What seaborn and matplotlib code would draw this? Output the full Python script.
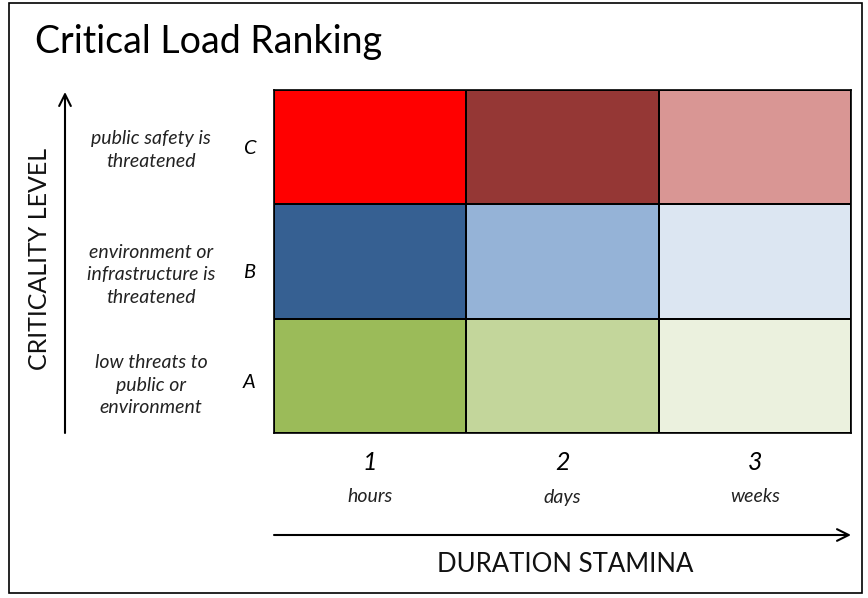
import matplotlib
matplotlib.use("Agg")
import matplotlib.pyplot as plt
from matplotlib.colors import ListedColormap
from matplotlib.patches import Rectangle
import seaborn as sns
import numpy as np
import pandas as pd

# ---- data ----
levels = ["C", "B", "A"]                       # criticality levels, top to bottom
level_desc = ["public safety is\nthreatened",
              "environment or\ninfrastructure is\nthreatened",
              "low threats to\npublic or\nenvironment"]
durations = ["1", "2", "3"]
duration_desc = ["hours", "days", "weeks"]
row_C = ["#FF0000", "#953735", "#D99694"]
row_B = ["#366092", "#95B3D7", "#DCE6F2"]
row_A = ["#9BBB59", "#C3D69B", "#EBF1DE"]

sns.set_theme(style="white")
plt.rcParams["font.family"] = ["Lato", "DejaVu Sans"]

W, H = 868, 598
fig = plt.figure(figsize=(W / 100, H / 100), dpi=100)
fig.patch.set_facecolor("white")

def fx(x):
    return x / W

def fy(y):
    return 1 - y / H

# heatmap area
x0, x1, y0, y1 = 274, 851, 90, 433
ax = fig.add_axes([fx(x0), fy(y1), fx(x1 - x0), (y1 - y0) / H])

all_colors = row_C + row_B + row_A
codes = np.arange(len(all_colors)).reshape(len(levels), len(durations))
df = pd.DataFrame(codes, index=levels, columns=durations)
sns.heatmap(df, cmap=ListedColormap(all_colors), vmin=-0.5, vmax=len(all_colors) - 0.5,
            cbar=False, linewidths=1.2, linecolor="black", ax=ax)
ax.set_xticks([])
ax.set_yticks([])
ax.set_xlabel("")
ax.set_ylabel("")
for s in ax.spines.values():
    s.set_visible(True)
    s.set_color("black")
    s.set_linewidth(1.2)

# outer border
fig.patches.append(Rectangle((fx(9), fy(593)), fx(853), (593 - 3) / H,
                             transform=fig.transFigure, fill=False,
                             edgecolor="black", linewidth=1.2))

# title
fig.text(fx(35), fy(42), "Critical Load Ranking", fontsize=27, ha="left", va="center",
         color="black")

# vertical axis arrow & label
ax.annotate("", xy=(65, H - 92), xytext=(65, H - 433), xycoords="figure pixels",
            textcoords="figure pixels",
            arrowprops=dict(arrowstyle="->,head_length=0.7,head_width=0.35", lw=1.5,
                            color="black", shrinkA=0, shrinkB=0))
fig.text(fx(40), fy(259), "CRITICALITY LEVEL", rotation=90, fontsize=18,
         ha="center", va="center", color="#111111")

desc_y = [150, 275, 385]
letter_y = [148, 273, 383]
for lvl, desc, dy, ly in zip(levels, level_desc, desc_y, letter_y):
    fig.text(fx(151), fy(dy), desc, fontsize=14, style="italic", ha="center",
             va="center", linespacing=1.4, color="#222222")
    fig.text(fx(249), fy(ly), lvl, fontsize=14.5, style="italic", ha="center",
             va="center", color="black")

# horizontal labels
col_centers = [(x0 + (x1 - x0) * (i + 0.5) / len(durations)) for i in range(len(durations))]
for cx, d, dd in zip(col_centers, durations, duration_desc):
    fig.text(fx(cx), fy(462), d, fontsize=18, style="italic", ha="center", va="center",
             color="black")
    fig.text(fx(cx), fy(497), dd, fontsize=14, style="italic", ha="center",
             va="center", color="#222222")

ax.annotate("", xy=(851, H - 535), xytext=(274, H - 535), xycoords="figure pixels",
            textcoords="figure pixels",
            arrowprops=dict(arrowstyle="->,head_length=0.7,head_width=0.35", lw=1.5,
                            color="black", shrinkA=0, shrinkB=0))
fig.text(fx(565), fy(564), "DURATION STAMINA", fontsize=18.5, ha="center", va="center",
         color="#111111")

fig.savefig("out.png", dpi=100, facecolor="white")
